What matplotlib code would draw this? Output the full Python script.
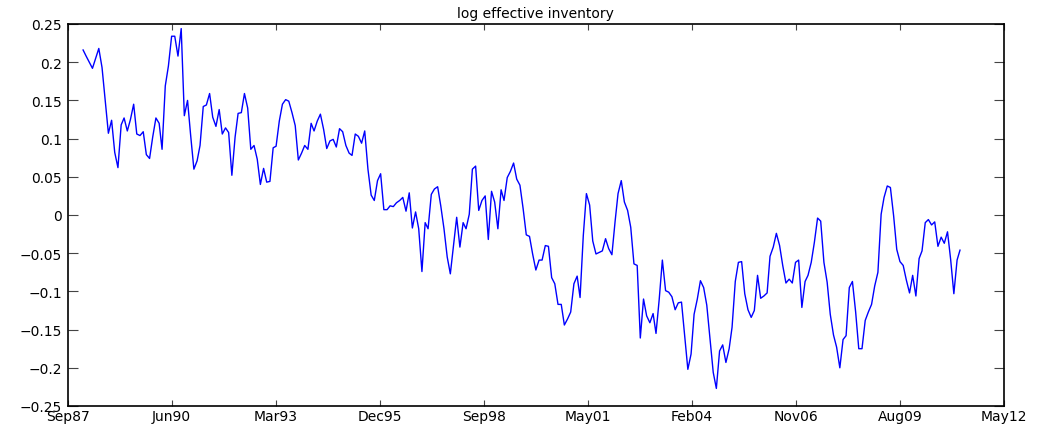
import pandas as pd
import numpy as np
import matplotlib
matplotlib.use('Agg')
import matplotlib.pyplot as plt
import matplotlib.dates as mdates
from matplotlib.ticker import FuncFormatter, MultipleLocator


# monthly values, Feb 1988 onwards
log_inventory = [
    0.216, 0.208, 0.200, 0.192, 0.205, 0.218, 0.193, 0.150, 0.107, 0.124,
    0.082, 0.062, 0.118, 0.127, 0.110, 0.125, 0.145, 0.106, 0.104, 0.109,
    0.079, 0.074, 0.102, 0.127, 0.120, 0.086, 0.169, 0.195, 0.234, 0.234,
    0.208, 0.244, 0.130, 0.150, 0.104, 0.060, 0.071, 0.091, 0.142, 0.144,
    0.159, 0.128, 0.116, 0.138, 0.106, 0.114, 0.108, 0.052, 0.102, 0.133,
    0.134, 0.159, 0.140, 0.086, 0.091, 0.073, 0.040, 0.061, 0.043, 0.044,
    0.088, 0.090, 0.123, 0.145, 0.151, 0.149, 0.134, 0.117, 0.072, 0.081,
    0.091, 0.086, 0.120, 0.110, 0.123, 0.132, 0.112, 0.087, 0.097, 0.099,
    0.089, 0.113, 0.109, 0.091, 0.081, 0.078, 0.106, 0.103, 0.094, 0.110,
    0.060, 0.026, 0.019, 0.045, 0.054, 0.007, 0.007, 0.012, 0.011, 0.016,
    0.019, 0.023, 0.005, 0.029, -0.017, 0.004, -0.018, -0.074, -0.010, -0.018,
    0.027, 0.034, 0.037, 0.012, -0.018, -0.055, -0.077, -0.040, -0.003, -0.042,
    -0.010, -0.018, 0.001, 0.060, 0.064, 0.006, 0.019, 0.025, -0.032, 0.031,
    0.017, -0.018, 0.033, 0.019, 0.049, 0.057, 0.068, 0.047, 0.039, 0.008,
    -0.026, -0.028, -0.051, -0.072, -0.059, -0.059, -0.040, -0.041, -0.082, -0.090,
    -0.117, -0.117, -0.144, -0.136, -0.127, -0.090, -0.080, -0.108, -0.027, 0.028,
    0.013, -0.034, -0.051, -0.049, -0.047, -0.031, -0.044, -0.052, -0.008, 0.028,
    0.045, 0.017, 0.006, -0.016, -0.064, -0.066, -0.161, -0.110, -0.132, -0.141,
    -0.129, -0.155, -0.110, -0.059, -0.099, -0.101, -0.107, -0.124, -0.115, -0.114,
    -0.158, -0.202, -0.182, -0.130, -0.110, -0.086, -0.095, -0.118, -0.162, -0.206,
    -0.227, -0.178, -0.170, -0.193, -0.175, -0.147, -0.087, -0.062, -0.061, -0.103,
    -0.124, -0.134, -0.125, -0.079, -0.109, -0.106, -0.102, -0.054, -0.042, -0.024,
    -0.040, -0.066, -0.089, -0.084, -0.089, -0.062, -0.059, -0.121, -0.087, -0.079,
    -0.062, -0.036, -0.004, -0.008, -0.062, -0.088, -0.130, -0.157, -0.173, -0.200,
    -0.163, -0.158, -0.095, -0.087, -0.127, -0.175, -0.175, -0.138, -0.127, -0.117,
    -0.093, -0.075, 0.001, 0.023, 0.038, 0.036, -0.001, -0.045, -0.061, -0.066,
    -0.085, -0.102, -0.079, -0.106, -0.057, -0.047, -0.010, -0.006, -0.013, -0.009,
    -0.041, -0.029, -0.037, -0.022, -0.058, -0.103, -0.059, -0.046,
]

dates = pd.date_range('1988-02-01', periods=len(log_inventory), freq='MS') + pd.Timedelta(days=14)

# axis runs 9000 days, ticks every 1000 days (matlab datetick style)
x_start = pd.Timestamp('1987-09-20')
tick_dates = [x_start + pd.Timedelta(days=1000 * k) for k in range(10)]
tick_labels = [d.strftime('%b%y') for d in tick_dates]

plt.rcParams['font.family'] = 'DejaVu Sans'

fig = plt.figure(figsize=(10.4, 4.31), dpi=100)
ax = fig.add_axes([67.7 / 1040, 1 - 407 / 431, (1004 - 67.7) / 1040, (407 - 25) / 431])

ax.plot(dates, log_inventory, color='#0000ff', lw=1.0)

ax.set_xlim(tick_dates[0], tick_dates[-1])
ax.set_xticks(tick_dates)
ax.set_xticklabels(tick_labels)
ax.set_ylim(-0.25, 0.25)
ax.yaxis.set_major_locator(MultipleLocator(0.05))
ax.yaxis.set_major_formatter(FuncFormatter(lambda v, p: ('%g' % round(v, 3)).replace('-', '\u2212')))

ax.tick_params(axis='both', direction='in', top=True, right=True, labelsize=10, width=0.8, color='#444444')
ax.tick_params(axis='x', length=4, pad=2)
ax.tick_params(axis='y', length=7, pad=4)
for s in ax.spines.values():
    s.set_linewidth(1.2)

ax.set_title('log effective inventory', fontsize=10, pad=5)

fig.savefig('out.png', dpi=100)
